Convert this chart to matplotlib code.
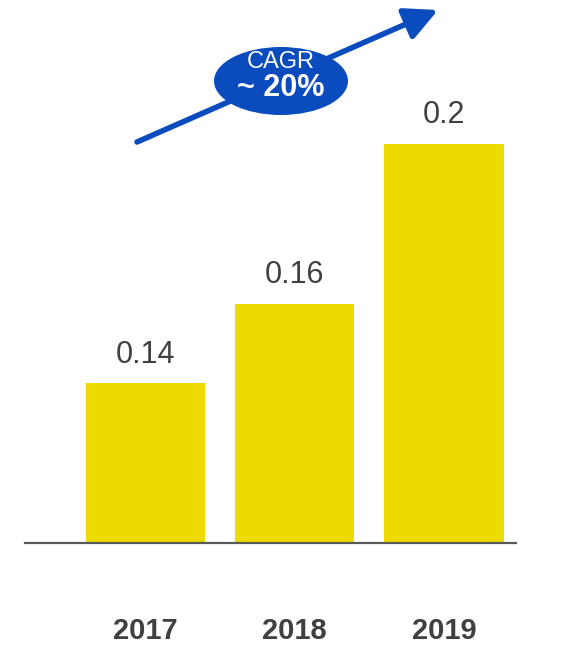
import matplotlib
matplotlib.use('Agg')
import matplotlib.pyplot as plt
from matplotlib.patches import Ellipse

years = ['2017', '2018', '2019']
values = [0.14, 0.16, 0.2]
valueLabels = ['0.14', '0.16', '0.2']
cagrText = 'CAGR'
cagrValue = '~ 20%'

barColor = '#EDDB00'
blue = '#0A4BBE'
grey = '#404040'

plt.rcParams['font.family'] = ['Liberation Sans', 'DejaVu Sans']

fig = plt.figure(figsize=(5.7, 6.45), dpi=100)
ax = fig.add_axes([25 / 570, 102 / 645, 491 / 570, 543 / 645])

x = list(range(len(years)))
bars = ax.bar(x, values, width=0.8, color=barColor, zorder=2)

# value labels above each bar
for b, lab in zip(bars, valueLabels):
    ax.annotate(lab, (b.get_x() + b.get_width() / 2, b.get_height()),
                xytext=(0, 10), textcoords='offset points',
                ha='center', va='bottom', fontsize=22, color=grey)

ax.set_xlim(-0.807, 2.482)
ax.set_ylim(0.1, 0.1 + 543 / 3990)

for s in ['top', 'right', 'left']:
    ax.spines[s].set_visible(False)
ax.spines['bottom'].set_color('#595959')
ax.spines['bottom'].set_linewidth(1.6)
ax.set_yticks([])
ax.set_xticks(x)
ax.set_xticklabels(years, fontsize=21, fontweight='bold', color=grey)
ax.tick_params(axis='x', length=0, pad=53)

# growth arrow with CAGR bubble
ax.annotate('', xy=(438 / 570, 1 - 10 / 645), xytext=(137 / 570, 1 - 142 / 645),
            xycoords='figure fraction', textcoords='figure fraction',
            arrowprops=dict(arrowstyle='-|>,head_length=2.0,head_width=1.0',
                            color=blue, lw=4, shrinkA=0, shrinkB=0))
ell = Ellipse((281 / 570, 1 - 81 / 645), 134 / 570, 68 / 645,
              transform=fig.transFigure, facecolor=blue, edgecolor='none', zorder=5)
fig.patches.append(ell)
fig.text(281 / 570, 1 - 62 / 645, cagrText, ha='center', va='center',
         fontsize=17, color='white', zorder=6)
fig.text(281 / 570, 1 - 88 / 645, cagrValue, ha='center', va='center',
         fontsize=22, fontweight='bold', color='white', zorder=6)

fig.savefig('out.png', dpi=100)
